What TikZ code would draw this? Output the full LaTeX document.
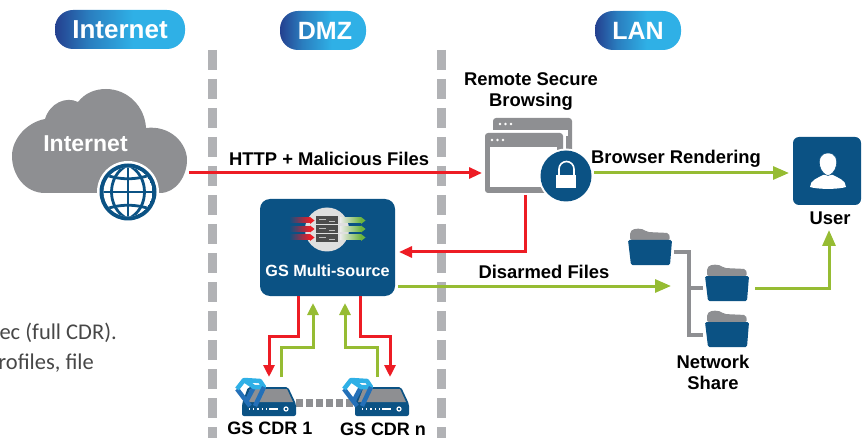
\documentclass[tikz,border=0pt]{standalone}
\usepackage{fontspec}
\setmainfont{Liberation Sans}
\newfontfamily\notefont{Carlito}
\usetikzlibrary{arrows.meta,shadings}
\definecolor{gsblue}{HTML}{0B5284}
\definecolor{gsgrey}{HTML}{8E8F92}
\definecolor{gsdash}{HTML}{B1B2B5}
\definecolor{gsred}{HTML}{ED1C24}
\definecolor{gsgreen}{HTML}{96BC33}
\definecolor{gsbright}{HTML}{6DB33F}
\definecolor{pillL}{HTML}{24408F}
\definecolor{pillR}{HTML}{2FB0E6}
\definecolor{logoD}{HTML}{2470B8}
\pgfdeclarehorizontalshading{pillshade}{100bp}{color(0bp)=(pillL); color(25bp)=(pillL); color(38bp)=(pillR!55!pillL); color(55bp)=(pillR); color(100bp)=(pillR)}
\tikzset{
 x=1pt,y=-1pt,
 pill/.style={rounded corners=18pt,shading=pillshade,minimum height=39pt,text=white,font=\bfseries\fontsize{25}{25}\selectfont,inner sep=0pt},
 zonedash/.style={gsdash,line width=9pt,dash pattern=on 20pt off 9pt},
 redflow/.style={gsred,line width=3pt,-{Triangle[length=13pt,width=11pt]}},
 greenflow/.style={gsgreen,line width=3pt,-{Triangle[length=16pt,width=13pt]}},
 lbl/.style={font=\bfseries\fontsize{18.4}{21}\selectfont,text=black,inner sep=0pt},
 cdrlbl/.style={font=\bfseries\fontsize{18}{18}\selectfont,text=black,inner sep=0pt},
 notetxt/.style={anchor=base east,text=black!72,font=\notefont\fontsize{22.5}{24}\selectfont,inner sep=0pt},
 bar/.style={gsgrey,line width=4pt},
}
\newcommand{\gsfolder}[2]{%
 \begin{scope}[shift={(#1,#2)}]
  \fill[gsgrey,rounded corners=2pt] (2,11) -- (2,3) .. controls (6,-1) and (14,-1) .. (19,3) -- (41,4) -- (42,11) -- cycle;
  \fill[gsblue,rounded corners=1.5pt] (0,11) -- (44,11) -- (42,36) -- (3,36) -- cycle;
 \end{scope}}
\newcommand{\gsdevice}[3]{%
 \begin{scope}[shift={(#1,#2)}]
  \fill[gsblue,rounded corners=2pt] (6,10) -- (46,10) -- (54,27) -- (54,39) -- (0,39) -- (0,27) -- cycle;
  \fill[gsgrey] (8,12) -- (45,12) -- (51,25) -- (3,25) -- cycle;
  \draw[white,line width=1.2pt,dash pattern=on 1.2pt off 3pt] (7,32) -- (25,32);
  \draw[white,line width=1.2pt] (27,32) -- (36,32);
  \draw[white,line width=1.2pt] (44,32) circle (2pt);
 \end{scope}
 \begin{scope}[shift={(#3,#2)},line width=4.5pt,line join=round]
  \draw[logoD] (2,12) -- (15,29);
  \draw[logoD] (19,10) -- (11,25);
  \draw[pillR] (2,12) -- (9,3) -- (25,4) -- (29,10) -- (19,10) -- (9,3);
  \draw[logoD] (29,10) -- (20,29);
 \end{scope}}
\begin{document}
\begin{tikzpicture}
\useasboundingbox (0,0) rectangle (864,438);
% zone bars
\draw[zonedash] (212.5,50) -- (212.5,438);
\draw[zonedash] (441.5,50) -- (441.5,438);
% pills
\node[pill,minimum width=130pt,font=\bfseries\fontsize{26}{26}\selectfont] (pA) at (120,29.5) {Internet};
\node[pill,minimum width=86pt] (pB) at (323,30.5) {\hspace*{4pt}DMZ};
\node[pill,minimum width=86pt] (pC) at (638,30.5) {LAN};
% cloud
\fill[gsgrey] (45,193) .. controls (25,193) and (12,175) .. (12,156)
 .. controls (12,138) and (28,122) .. (45,119)
 .. controls (50,103) and (66,96) .. (78,102)
 .. controls (85,93) and (95,89) .. (106,89)
 .. controls (128,89) and (145,107) .. (146,128)
 .. controls (170,125) and (187,143) .. (187,160)
 .. controls (187,176) and (176,193) .. (160,193) -- cycle;
\node[font=\bfseries\fontsize{23}{23}\selectfont,text=white,inner sep=0pt] (cloudtxt) at (85.5,144) {Internet};
\fill[white] (128,192) circle (31pt);
\node[circle,fill=gsblue,minimum size=57pt,inner sep=0pt] (globe) at (128,192) {};
\begin{scope}
 \clip (128,192) circle (24.5pt);
 \fill[white] (128,192) circle (24.5pt);
 \begin{scope}[gsblue,line width=2.8pt]
  \draw (128,165) -- (128,219);
  \draw (100,192) -- (156,192);
  \draw (100,172) .. controls (115,181) and (141,181) .. (156,172);
  \draw (100,212) .. controls (115,203) and (141,203) .. (156,212);
  \draw (128,165) .. controls (106,175) and (106,209) .. (128,219);
  \draw (128,165) .. controls (150,175) and (150,209) .. (128,219);
 \end{scope}
\end{scope}
% multisource
\node[fill=gsblue,rounded corners=10pt,minimum width=135pt,minimum height=97pt,inner sep=0pt] (ms) at (327.5,247.5) {};
\fill[gray!25] (327,229.5) circle (22pt);
\foreach \yy in {220.5,229,237.5}{
 \shade[left color=gsblue,middle color=gsred,right color=gsred,draw=none] (289,\yy-2.5) rectangle (310,\yy+2.5);
 \fill[gsred] (310,\yy-3.5) -- (314.5,\yy) -- (310,\yy+3.5) -- cycle;
 \shade[left color=gray!15,middle color=gsbright,right color=gsbright,draw=none] (340,\yy-2.5) rectangle (361,\yy+2.5);
 \fill[gsbright] (361,\yy-3.5) -- (365.5,\yy) -- (361,\yy+3.5) -- cycle;
}
\foreach \yy in {216,225,234}{
 \fill[black!70] (316,\yy) rectangle (338,\yy+8);
 \draw[black!25,line width=.6pt] (319,\yy+3) -- (326,\yy+3) (329,\yy+5) -- (335,\yy+5);
}
\node[font=\bfseries\fontsize{16.2}{16.2}\selectfont,text=white,inner sep=0pt] (mstxt) at (327.5,271) {GS Multi-source};
% browser
\fill[gsgrey,rounded corners=3pt] (493,118) rectangle (572,165);
\fill[white] (493,130) rectangle (566,165);
\fill[white] (481,130) rectangle (568,136);
\fill[gsgrey,rounded corners=3pt] (485,133) rectangle (563,193);
\fill[white] (490,147) rectangle (557,187);
\foreach \xx in {500,505.5,511}{\fill[white] (\xx,124) circle (1.3pt);}
\foreach \xx in {492,497.5,503}{\fill[white] (\xx,140) circle (1.3pt);}
\fill[white] (566,176) circle (27.5pt);
\node[circle,fill=gsblue,minimum size=51pt,inner sep=0pt] (lock) at (566,176) {};
\draw[white,line width=1.6pt] (559,176) -- (559,169) arc[start angle=180,end angle=0,radius=7.5pt] -- (574,176);
\fill[white] (556,175) rectangle (576,188);
% user
\node[fill=gsblue,rounded corners=6pt,minimum width=68pt,minimum height=68pt,inner sep=0pt] (user) at (827,171) {};
\fill[white] (810,187) .. controls (810,180) and (818,178) .. (823,175) -- (833,175) .. controls (838,178) and (846,180) .. (846,187) .. controls (838,189.5) and (818,189.5) .. (810,187) -- cycle;
\draw[gsblue,line width=.6pt,fill=white] (828,153) .. controls (820,153) and (818.5,160) .. (819.5,165) .. controls (820.5,171) and (825,175.5) .. (828,175.5) .. controls (831,175.5) and (835.5,171) .. (836.5,165) .. controls (837.5,160) and (836,153) .. (828,153) -- cycle;
\node[lbl] (usertxt) at (830,218) {User};
% folders
\gsfolder{628}{229}
\gsfolder{705}{265}
\gsfolder{705}{311}
\coordinate (f1) at (674,252.5);
\coordinate (fm) at (703,288);
\coordinate (fb) at (703,335);
\draw[bar,line join=miter] (f1) -- (689,252.5) -- (689,335) -- (fb);
\draw[bar] (689,288) -- (fm);
\node[lbl,align=center] (share) at (713,372.5) {Network\\Share};
% devices
\coordinate (d1) at (296,403);
\coordinate (d2) at (356,403);
\draw[gsgrey,line width=8pt,dash pattern=on 7pt off 3pt] (d1) -- (d2);
\gsdevice{242}{377}{235}
\gsdevice{355}{377}{342}
\node[cdrlbl] (cdr1) at (270,428) {GS CDR 1};
\node[cdrlbl] (cdrn) at (383,429) {GS CDR n};
% flows
\coordinate (a0) at (189,173);
\coordinate (a1) at (482,173);
\draw[redflow] (a0) -- (a1);
\coordinate (b0) at (525.5,195);
\coordinate (b1) at (399,252);
\draw[redflow] (b0) |- (b1);
\coordinate (c0) at (398,286);
\coordinate (c1) at (671,286);
\draw[greenflow] (c0) -- (c1);
\coordinate (e0) at (594,173);
\coordinate (e1) at (789,173);
\draw[greenflow] (e0) -- (e1);
\coordinate (g0) at (755,288);
\coordinate (g1) at (829,230);
\draw[greenflow] (g0) -| (g1);
\draw[redflow,-{Triangle[length=12pt,width=11pt]}] (298,296) -- (298,336) -- (269,336) -- (269,377);
\draw[redflow,-{Triangle[length=12pt,width=11pt]}] (360,296) -- (360,336) -- (390,336) -- (390,377);
\draw[greenflow,-{Triangle[length=12pt,width=11pt]}] (281,377) -- (281,347) -- (313,347) -- (313,303);
\draw[greenflow,-{Triangle[length=12pt,width=11pt]}] (377,377) -- (377,347) -- (345,347) -- (345,303);
% labels
\node[lbl,anchor=base west] (http) at (229,165.5) {HTTP + Malicious Files};
\node[lbl,anchor=base] (rb) at (676,164) {Browser Rendering};
\node[lbl,anchor=base] (df) at (544,278) {Disarmed Files};
\node[lbl,align=center] (rsb) at (531,91.5) {Remote Secure\\Browsing};
% cut-off copy at the left edge
\node[notetxt] (n1) at (117,339) {ec (full CDR).};
\node[notetxt] (n2) at (94,369) {rofiles, file};
\end{tikzpicture}
\end{document}
